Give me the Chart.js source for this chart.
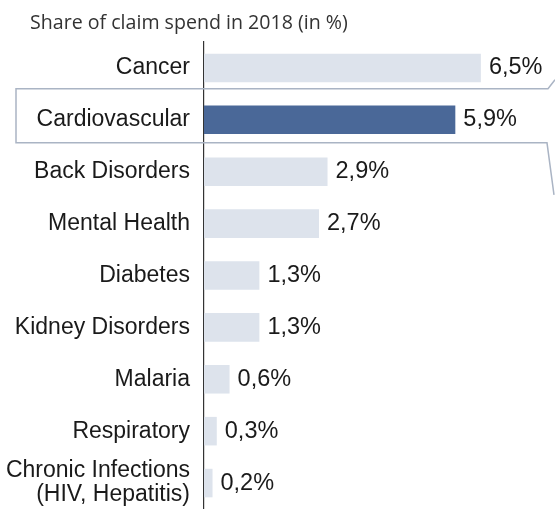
<!DOCTYPE html>
<html>
<head>
<meta charset="utf-8">
<script src="https://cdn.jsdelivr.net/npm/chart.js@4"></script>
<style>
  html, body { margin: 0; padding: 0; background: #fff; }
  #wrap { position: relative; width: 555px; height: 509px; }
  #title { position: absolute; left: 30px; top: 8px; font: 19.6px "Open Sans", sans-serif; color: #333; }
  canvas { position: absolute; left: 0; top: 0; }
</style>
</head>
<body>
<div id="wrap">
  <canvas id="chart" width="555" height="509"></canvas>
  <div id="title">Share of claim spend in 2018 (in %)</div>
</div>
<script>
const categories = ['Cancer', 'Cardiovascular', 'Back Disorders', 'Mental Health', 'Diabetes',
  'Kidney Disorders', 'Malaria', 'Respiratory', ['Chronic Infections', '(HIV, Hepatitis)']];
const values = [6.5, 5.9, 2.9, 2.7, 1.3, 1.3, 0.6, 0.3, 0.2];
const highlight = 1; // Cardiovascular

const lightBar = '#dde3ec';
const darkBar = '#4a6898';

// value labels after each bar
const valueLabels = {
  id: 'valueLabels',
  afterDatasetsDraw(chart) {
    const ctx = chart.ctx;
    const meta = chart.getDatasetMeta(0);
    ctx.save();
    ctx.font = '23.5px "Liberation Sans", Arial, sans-serif';
    ctx.fillStyle = '#1a1a1a';
    ctx.textBaseline = 'middle';
    meta.data.forEach((bar, i) => {
      const txt = values[i].toFixed(1).replace('.', ',') + '%';
      ctx.fillText(txt, bar.x + 8, bar.y);
    });
    ctx.restore();
  }
};

// callout frame around the highlighted row
const callout = {
  id: 'callout',
  beforeDatasetsDraw(chart) {
    const ctx = chart.ctx;
    const y = chart.scales.y.getPixelForValue(highlight);
    const top = y - 31, bottom = y + 23;
    ctx.save();
    ctx.strokeStyle = '#aab4c4';
    ctx.lineWidth = 1.5;
    ctx.beginPath();
    ctx.moveTo(555, top - 9);
    ctx.lineTo(548, top);
    ctx.lineTo(16, top);
    ctx.lineTo(16, bottom);
    ctx.lineTo(547, bottom);
    ctx.lineTo(554, bottom + 52);
    ctx.stroke();
    ctx.restore();
  }
};

new Chart(document.getElementById('chart'), {
  type: 'bar',
  data: {
    labels: categories,
    datasets: [{
      data: values,
      backgroundColor: values.map((v, i) => i === highlight ? darkBar : lightBar),
      borderWidth: 0,
      categoryPercentage: 1,
      barPercentage: 0.55
    }]
  },
  options: {
    indexAxis: 'y',
    responsive: false,
    animation: false,
    layout: { autoPadding: false, padding: { top: 42, right: 0, bottom: 0, left: 0 } },
    plugins: {
      legend: { display: false },
      tooltip: { enabled: false }
    },
    scales: {
      x: {
        display: false,
        min: 0,
        max: 8.24
      },
      y: {
        afterFit(scale) {
          scale.width = 204;
          scale.paddingTop = 0;
          scale.paddingBottom = 0;
        },
        grid: { display: false, drawTicks: false },
        border: { display: true, color: '#333', width: 1.2 },
        ticks: {
          padding: 14,
          color: '#1a1a1a',
          font: { family: '"Liberation Sans", Arial, sans-serif', size: 23, lineHeight: 1.05 }
        }
      }
    }
  },
  plugins: [callout, valueLabels]
});
</script>
</body>
</html>
